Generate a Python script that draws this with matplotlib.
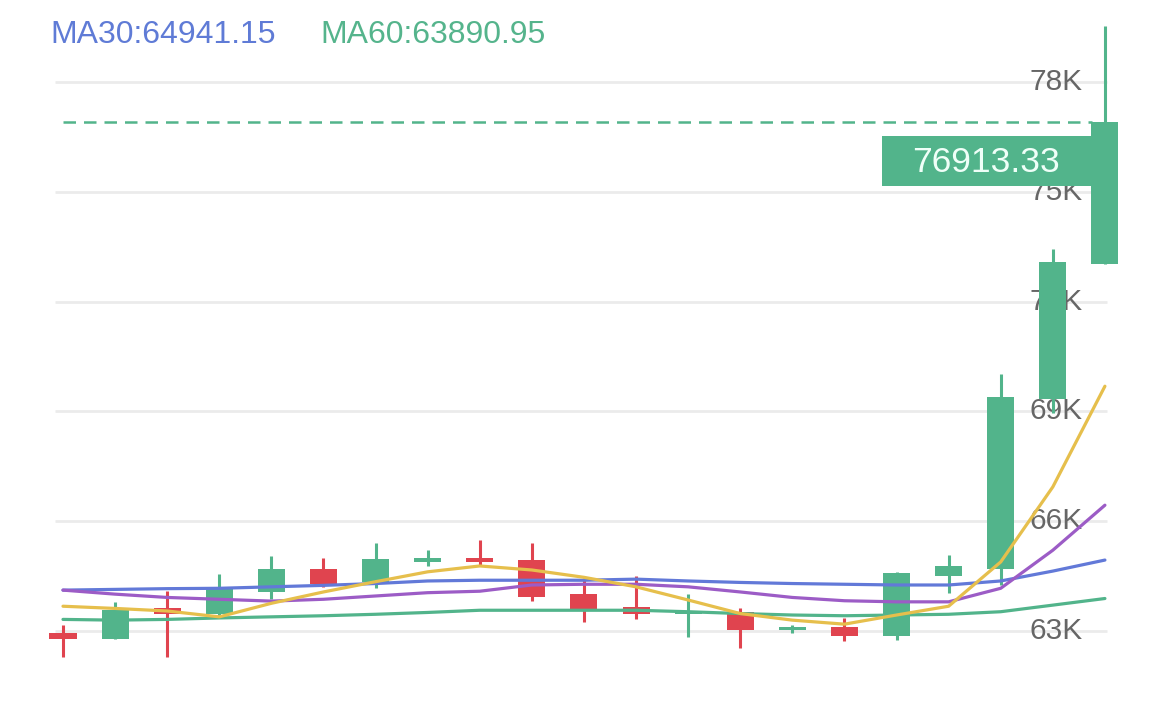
import numpy as np
import matplotlib.pyplot as plt

# candle data (USD)
opens = [62940, 62790, 63620, 63480, 64070, 64710, 64350, 64900, 65010, 64940, 64010,
         63650, 63460, 63530, 63020, 63120, 62870, 64500, 64700, 69330, 73030]
closes = [62790, 63590, 63480, 64170, 64710, 64300, 64970, 65000, 64890, 63940, 63610,
          63460, 63530, 63030, 63120, 62870, 64580, 64780, 69400, 73090, 76913.33]
highs = [63160, 63800, 64090, 64560, 65050, 65010, 65400, 65210, 65490, 65400, 64460,
         64500, 64010, 63620, 63180, 63360, 64620, 65080, 70020, 73430, 79540]
lows = [62300, 62790, 62300, 63420, 63880, 64210, 64180, 64780, 64800, 63820, 63250,
        63320, 62830, 62540, 62940, 62730, 62770, 64050, 64260, 68950, 73030]

# moving averages
ma_yellow = [63680, 63620, 63550, 63390, 63760, 64070, 64350, 64620, 64780, 64670, 64470,
             64210, 63850, 63480, 63300, 63190, 63440, 63680, 64890, 66940, 69690]
ma_purple = [64120, 64010, 63920, 63870, 63820, 63870, 63960, 64050, 64090, 64260, 64280,
             64280, 64210, 64070, 63920, 63830, 63800, 63800, 64170, 65210, 66440]
ma30 = [64120, 64140, 64160, 64170, 64210, 64250, 64300, 64370, 64390, 64390, 64390,
        64420, 64370, 64330, 64300, 64280, 64260, 64260, 64370, 64640, 64941.15]
ma60 = [63320, 63300, 63320, 63360, 63390, 63420, 63460, 63510, 63570, 63570, 63570,
        63570, 63530, 63480, 63440, 63420, 63440, 63460, 63530, 63710, 63890.95]

y_ticks = [63000, 66000, 69000, 72000, 75000, 78000]
y_tick_labels = ['63K', '66K', '69K', '72K', '75K', '78K']
last_price = 76913.33

UP = '#52b48b'
DOWN = '#e0444f'
BLUE = '#6279d8'
PURPLE = '#9c5cc6'
YELLOW = '#e6bf4c'
GRID = '#ebebeb'
TICK = '#666666'

plt.rcParams['font.family'] = ['Liberation Sans', 'DejaVu Sans']

fig = plt.figure(figsize=(11.69, 7.08), dpi=100)
ax = fig.add_axes([0, 0, 1, 1])
ax.set_axis_off()
ax.set_xlim(-1.209, 21.23)
ax.set_ylim(60900, 80240)

x = np.arange(len(opens))

# grid and tick labels
ax.hlines(y_ticks, -0.15, 20.04, color=GRID, lw=2, zorder=0)
for v, lab in zip(y_ticks, y_tick_labels):
    ax.text(19.57, v, lab, ha='right', va='center', fontsize=21.5, color=TICK, zorder=1)

# candles
for i in x:
    o, c, h, l = opens[i], closes[i], highs[i], lows[i]
    col = UP if c >= o else DOWN
    ax.vlines(i, l, h, color=col, lw=2.2, zorder=2)
    lo, hi = min(o, c), max(o, c)
    ax.bar(i, max(hi - lo, 60), bottom=lo, width=0.52, color=col, zorder=3)

# moving average lines
for ma, col in [(ma60, UP), (ma30, BLUE), (ma_purple, PURPLE), (ma_yellow, YELLOW)]:
    ax.plot(x, ma, color=col, lw=2.3, solid_joinstyle='round', solid_capstyle='round', zorder=4)

# last price line and label
ax.plot([0, 19.75], [last_price, last_price], color=UP, lw=1.8, ls=(0, (5, 3.2)), zorder=5)
ax.add_patch(plt.Rectangle((15.72, 75160), 4.02, 1370, color=UP, zorder=6, lw=0))
ax.text(17.72, 75790, f'{last_price:.2f}', ha='center', va='center',
        fontsize=25.5, color='#effff8', zorder=7)

# legend
fig.text(50 / 1169, 1 - 35 / 708, 'MA30:64941.15', color='#5f7bd6', fontsize=23,
         ha='left', va='center')
fig.text(320 / 1169, 1 - 35 / 708, 'MA60:63890.95', color='#55b48c', fontsize=23,
         ha='left', va='center')

fig.savefig('out.png', dpi=100, facecolor='white')
